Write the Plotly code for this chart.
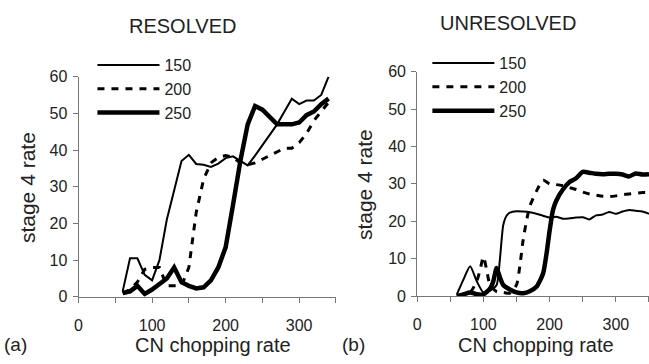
import plotly.graph_objects as go

# ---------------- data ----------------
x_left = [60, 70, 80, 90, 100, 110, 120, 130, 140, 150, 160, 170, 180, 190, 200,
          210, 220, 230, 240, 250, 260, 270, 280, 290, 300, 310, 320, 330, 340]
left_150 = [1.5, 10.5, 10.5, 6, 4.5, 10, 21, 29, 37, 38.7, 36.2, 36, 35.4, 36.3, 37.8,
            38.3, 37, 35.8, 38.5, 41.3, 44, 47, 50.5, 54, 52.5, 53.5, 53.5, 55, 60]
left_200 = [1, 2, 4, 7.5, 8, 8, 3, 3, 3, 8, 23, 32, 36.5, 38, 38.5,
            38, 36.5, 36, 36.5, 37.5, 38.5, 39.5, 40.5, 40.5, 42, 44.5, 48, 50.5, 53]
left_250 = [1, 1.5, 3, 0.8, 2, 3.5, 5, 8, 4, 3, 2.3, 2.6, 4.5, 8, 13.5,
            25, 37, 47, 52, 51, 49, 47, 47, 47, 47.5, 49.5, 50.5, 52.5, 54]

x_right_150 = [60, 70, 80, 90, 100, 110, 120, 125, 130, 135, 140, 150, 160, 170, 180, 190,
               200, 210, 220, 230, 240, 250, 260, 270, 280, 290, 300, 310, 320, 330, 340, 350]
right_150 = [0.5, 4.5, 8, 4, 1, 1.5, 3, 10, 19, 21.5, 22.3, 22.7, 22.6, 22.4, 22, 21.5,
             21, 21.2, 20.7, 20.8, 21, 21.1, 20.5, 21.6, 21.8, 22.5, 22, 22.6, 23, 22.8, 22.6, 22]
x_right_200 = [60, 70, 80, 90, 95, 100, 105, 110, 120, 130, 140, 150, 155, 160, 165, 170,
               180, 190, 200, 210, 220, 230, 240, 250, 260, 270, 280, 290, 300, 310, 320,
               330, 340, 350]
right_200 = [0, 0.5, 1, 4, 7, 10.5, 7, 3, 1.2, 1, 0.8, 3, 8, 15, 20, 24,
             28, 31, 30, 29.8, 29.5, 29, 28.5, 27.8, 27.3, 27, 26.7, 26.6, 26.8, 27.1, 27.3,
             27.5, 27.7, 27.7]
x_right_250 = [60, 70, 80, 90, 100, 110, 115, 120, 125, 130, 140, 150, 160, 170, 180, 190,
               195, 200, 205, 210, 220, 230, 240, 250, 260, 270, 280, 290, 300, 310, 320,
               330, 340, 350]
right_250 = [0, 0.5, 1, 0.5, 0.5, 2, 4, 7.5, 5, 3, 1.8, 1, 0.8, 1.3, 2.5, 6,
             11, 17.5, 23, 25.5, 28.5, 30.5, 31.5, 33.2, 33, 32.7, 32.6, 32.7, 32.7, 32.5, 32,
             32.8, 32.5, 32.6]

series_names = ["150", "200", "250"]
x_ticks = [0, 50, 100, 150, 200, 250, 300, 350]
x_ticktext = ["0", "", "100", "", "200", "", "300", ""]
y_ticks = [0, 10, 20, 30, 40, 50, 60]
titles = ["RESOLVED", "UNRESOLVED"]
panel_labels = ["(a)", "(b)"]
x_title = "CN chopping rate"
y_title = "stage 4 rate"

# ---------------- styles ----------------
FONT = "Liberation Sans, Arial, sans-serif"
styles = [dict(width=2, dash="solid"),
          dict(width=3, dash="7px,7px"),
          dict(width=4.5, dash="solid")]

fig = go.Figure()
left_data = [(x_left, left_150), (x_left, left_200), (x_left, left_250)]
right_data = [(x_right_150, right_150), (x_right_200, right_200), (x_right_250, right_250)]

for (xs, ys), name, st in zip(left_data, series_names, styles):
    fig.add_trace(go.Scatter(x=xs, y=ys, mode="lines", name=name,
                             line=dict(color="black", width=st["width"], dash=st["dash"]),
                             xaxis="x", yaxis="y", legend="legend"))
for (xs, ys), name, st in zip(right_data, series_names, styles):
    fig.add_trace(go.Scatter(x=xs, y=ys, mode="lines", name=name,
                             line=dict(color="black", width=st["width"], dash=st["dash"],
                                       shape="spline", smoothing=0.6),
                             xaxis="x2", yaxis="y2", legend="legend2"))

W, H = 649, 364
axis_common = dict(showline=True, linecolor="#777", linewidth=1, ticks="outside",
                   ticklen=5, tickcolor="#777", showgrid=False, zeroline=False,
                   tickfont=dict(family=FONT, size=16, color="#222"))
xcommon = dict(axis_common, range=[0, 350], tickvals=x_ticks, ticktext=x_ticktext,
               ticklabelstandoff=9)
ycommon = dict(axis_common, range=[0, 60], tickvals=y_ticks, ticklabelstandoff=2)

legend_common = dict(bgcolor="rgba(0,0,0,0)", borderwidth=0, itemwidth=62,
                     font=dict(family=FONT, size=16, color="#222"),
                     xanchor="left", yanchor="top", tracegroupgap=0)

fig.update_layout(
    width=W, height=H, margin=dict(l=0, r=0, t=0, b=0),
    plot_bgcolor="white", paper_bgcolor="white",
    xaxis=dict(xcommon, domain=[75 / W, 334 / W], anchor="y"),
    yaxis=dict(ycommon, domain=[1 - 303 / H, 1 - 72 / H], anchor="x"),
    xaxis2=dict(xcommon, domain=[415.7 / W, 1.0], anchor="y2"),
    yaxis2=dict(ycommon, domain=[1 - 302.3 / H, 1 - 66.7 / H], anchor="x2"),
    legend=dict(legend_common, x=89 / W, y=1 - 42 / H),
    legend2=dict(legend_common, x=426 / W, y=1 - 40 / H),
)

ann = []
for txt, cx, cy in zip(titles, [180, 507], [19, 16]):
    ann.append(dict(text=txt, x=cx / W, y=1 - cy / H, xref="paper", yref="paper",
                    showarrow=False, font=dict(family=FONT, size=20, color="#222"),
                    xanchor="center", yanchor="middle"))
for cx in [210, 535]:
    ann.append(dict(text=x_title, x=cx / W, y=1 - 353 / H, xref="paper", yref="paper",
                    showarrow=False, font=dict(family=FONT, size=20, color="#222"),
                    xanchor="center", yanchor="middle"))
for cx, cy in [(23, 188), (363, 185)]:
    ann.append(dict(text=y_title, x=cx / W, y=1 - cy / H, xref="paper", yref="paper",
                    showarrow=False, textangle=-90,
                    font=dict(family=FONT, size=21, color="#222"),
                    xanchor="center", yanchor="middle"))
for txt, cx in zip(panel_labels, [12, 352]):
    ann.append(dict(text=txt, x=cx / W, y=1 - 353 / H, xref="paper", yref="paper",
                    showarrow=False, font=dict(family=FONT, size=19, color="#222"),
                    xanchor="center", yanchor="middle"))
fig.update_layout(annotations=ann)

fig.write_html("out.html")
